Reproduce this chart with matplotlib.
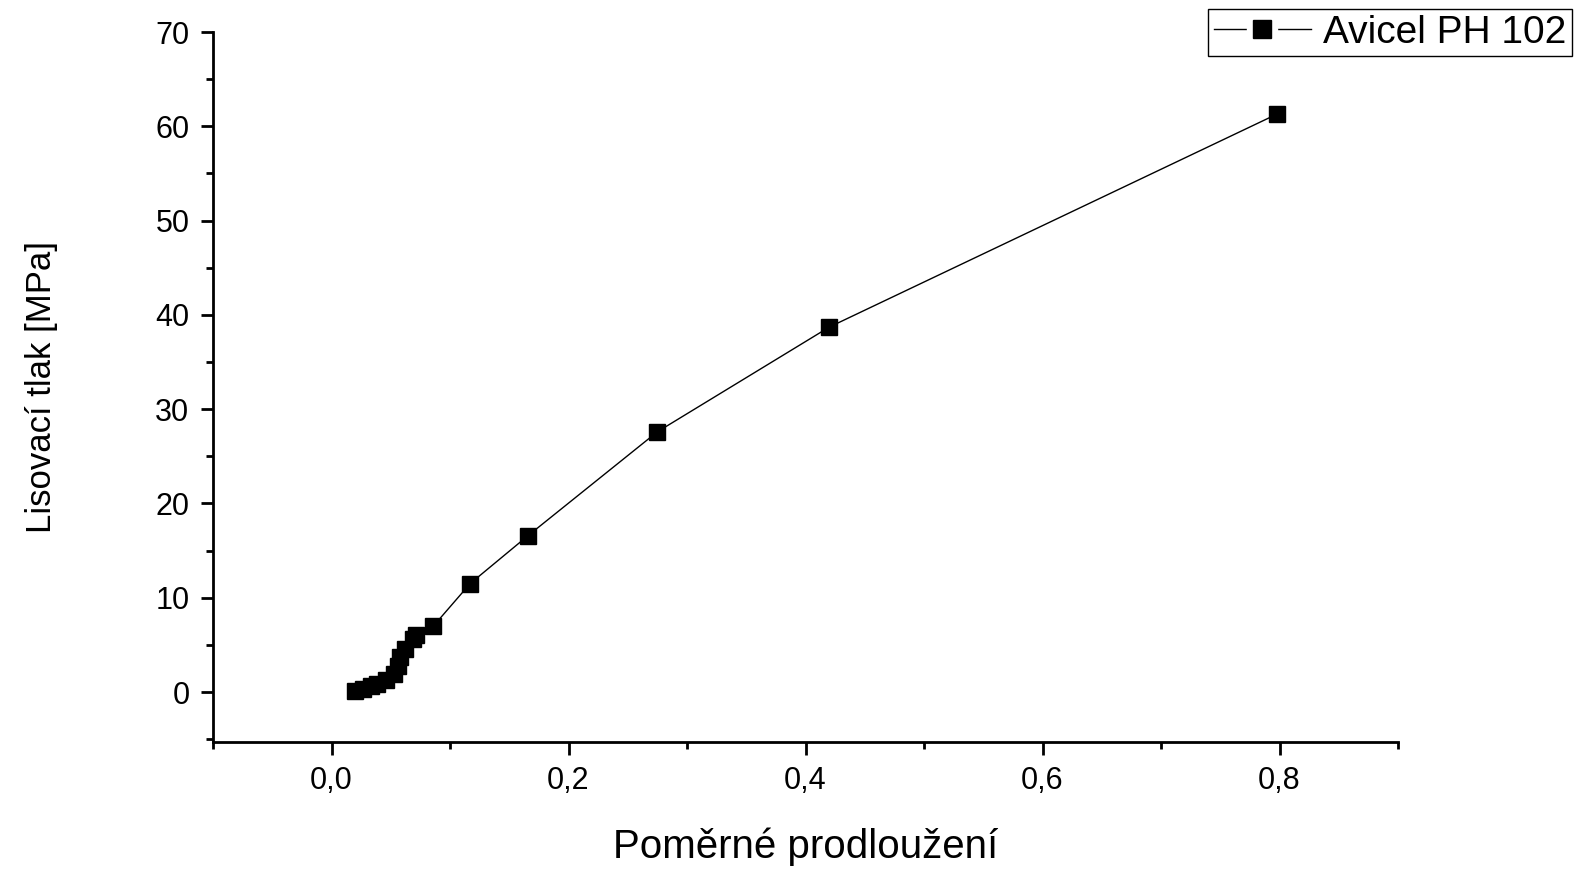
import matplotlib
matplotlib.use("Agg")
import matplotlib.pyplot as plt
from matplotlib.lines import Line2D
from matplotlib.legend_handler import HandlerTuple
from matplotlib.ticker import MultipleLocator, FuncFormatter

plt.rcParams['font.family'] = ['Liberation Sans', 'DejaVu Sans']

# Poměrné prodloužení vs. lisovací tlak
prodlouzeni = [0.020, 0.027, 0.033, 0.038, 0.046, 0.053, 0.056, 0.058, 0.062,
               0.069, 0.071, 0.086, 0.117, 0.166, 0.275, 0.420, 0.798]
tlak = [0.1, 0.3, 0.6, 0.9, 1.3, 1.9, 2.8, 3.7, 4.6,
        5.6, 6.1, 7.0, 11.5, 16.6, 27.6, 38.7, 61.3]
nazev = "Avicel PH 102"

W, H = 1575, 873
fig = plt.figure(figsize=(W / 100, H / 100), dpi=100)
ax = fig.add_axes([213 / W, (H - 742) / H, (1398 - 213) / W, (742 - 32) / H])

ax.plot(prodlouzeni, tlak, color='black', lw=1, marker='s', ms=11.5,
        markerfacecolor='black', markeredgecolor='black', label=nazev)

ax.set_xlim(-0.1, 0.9)
ax.set_ylim(-5.3, 70)
ax.spines['top'].set_visible(False)
ax.spines['right'].set_visible(False)
ax.spines['left'].set_linewidth(2)
ax.spines['bottom'].set_linewidth(2)

ax.xaxis.set_major_locator(MultipleLocator(0.2))
ax.xaxis.set_minor_locator(MultipleLocator(0.1))
ax.yaxis.set_major_locator(MultipleLocator(10))
ax.yaxis.set_minor_locator(MultipleLocator(5))
ax.xaxis.set_major_formatter(FuncFormatter(lambda v, p: ('%.1f' % v).replace('.', ',')))
ax.yaxis.set_major_formatter(FuncFormatter(lambda v, p: '%d' % round(v)))
ax.tick_params(which='major', direction='out', length=9, width=2, labelsize=22, pad=8)
ax.tick_params(which='minor', direction='out', length=5, width=2)

ax.set_xlabel("Poměrné prodloužení", fontsize=29, labelpad=23)
ax.set_ylabel("Lisovací tlak [MPa]", fontsize=25, labelpad=70)

# legend handle like Origin: line with a gap around the square
h_line = Line2D([], [], color='black', lw=1)
h_gap = Line2D([], [], ls='none', marker='s', ms=22, color='white')
h_mark = Line2D([], [], ls='none', marker='s', ms=13, color='black')
leg = fig.legend([(h_line, h_gap, h_mark)], [nazev],
                 handler_map={tuple: HandlerTuple(ndivide=1, pad=0)},
                 loc='upper right', bbox_to_anchor=(0.998, 0.99), fontsize=28,
                 fancybox=False, edgecolor='black', framealpha=1,
                 handlelength=2.5, borderpad=0.15, handletextpad=0.3, borderaxespad=0)
leg.get_frame().set_linewidth(1)

fig.savefig("out.png", dpi=100)
